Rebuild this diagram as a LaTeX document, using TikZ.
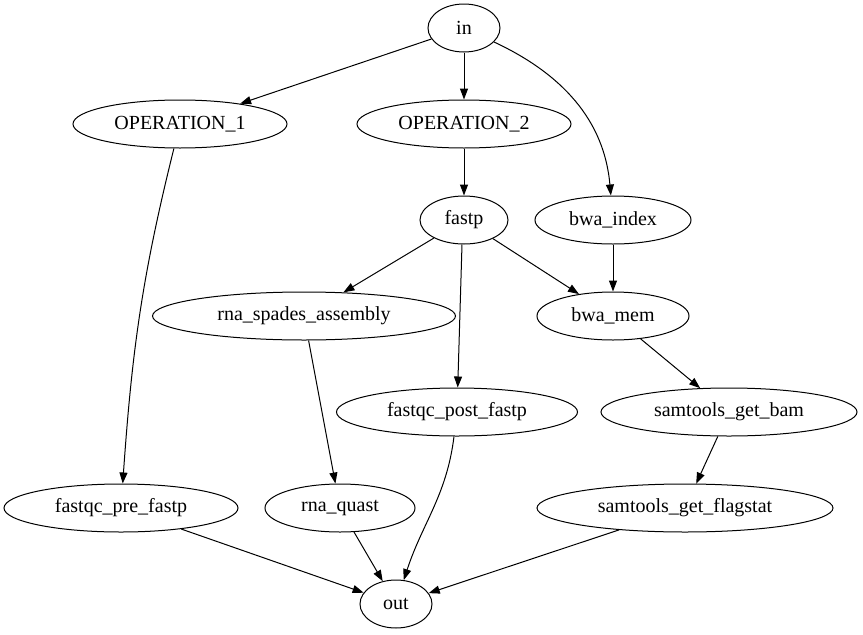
\documentclass[tikz,border=0pt]{standalone}
\usepackage{fontspec}
\setmainfont{Liberation Serif}
\usetikzlibrary{shapes.geometric,arrows.meta}
\tikzset{task/.style={draw, ellipse, inner sep=0pt, minimum height=48pt, line width=1pt, font=\fontsize{20}{24}\selectfont}}
\tikzset{flowarrow/.style={-{Triangle[length=11pt,width=8pt]}, line width=1pt}}

\begin{document}
\begin{tikzpicture}[x=1pt, y=-1pt]
\useasboundingbox (0,0) rectangle (863,635);
\node[task, minimum width=72pt] (in) at (464,28) {in};
\node[task, minimum width=214pt] (op1) at (180,124) {OPERATION\_1};
\node[task, minimum width=214pt] (op2) at (464,124) {OPERATION\_2};
\node[task, minimum width=88pt] (fastp) at (464,220) {fastp};
\node[task, minimum width=156pt] (bwaidx) at (613,220) {bwa\_index};
\node[task, minimum width=303pt] (spades) at (304,316) {rna\_spades\_assembly};
\node[task, minimum width=152pt] (bwamem) at (613,316) {bwa\_mem};
\node[task, minimum width=241pt] (qcpost) at (457,412) {fastqc\_post\_fastp};
\node[task, minimum width=256pt] (getbam) at (729,412) {samtools\_get\_bam};
\node[task, minimum width=234pt] (qcpre) at (121,508) {fastqc\_pre\_fastp};
\node[task, minimum width=150pt] (quast) at (340,508) {rna\_quast};
\node[task, minimum width=296pt] (flagstat) at (685,508) {samtools\_get\_flagstat};
\node[task, minimum width=72pt] (out) at (396,604) {out};
% edges
\draw[flowarrow] (in) -- (op1);
\draw[flowarrow] (in) -- (op2);
\draw[flowarrow] (in) to[out=-25, in=95] (bwaidx);
\draw[flowarrow] (op1) to[out=-104, in=86] (qcpre);
\draw[flowarrow] (op2) -- (fastp);
\draw[flowarrow] (fastp) -- (spades);
\draw[flowarrow] (fastp.south) ++(-2,0) -- (qcpost);
\draw[flowarrow] (fastp) -- (bwamem);
\draw[flowarrow] (bwaidx) -- (bwamem);
\draw[flowarrow] (spades) -- (quast);
\draw[flowarrow] (bwamem) -- (getbam);
\draw[flowarrow] (getbam) -- (flagstat);
\draw[flowarrow] (qcpost) to[out=-97, in=72] (out);
\draw[flowarrow] (qcpre) -- (out);
\draw[flowarrow] (quast) -- (out);
\draw[flowarrow] (flagstat) -- (out);
\end{tikzpicture}
\end{document}
